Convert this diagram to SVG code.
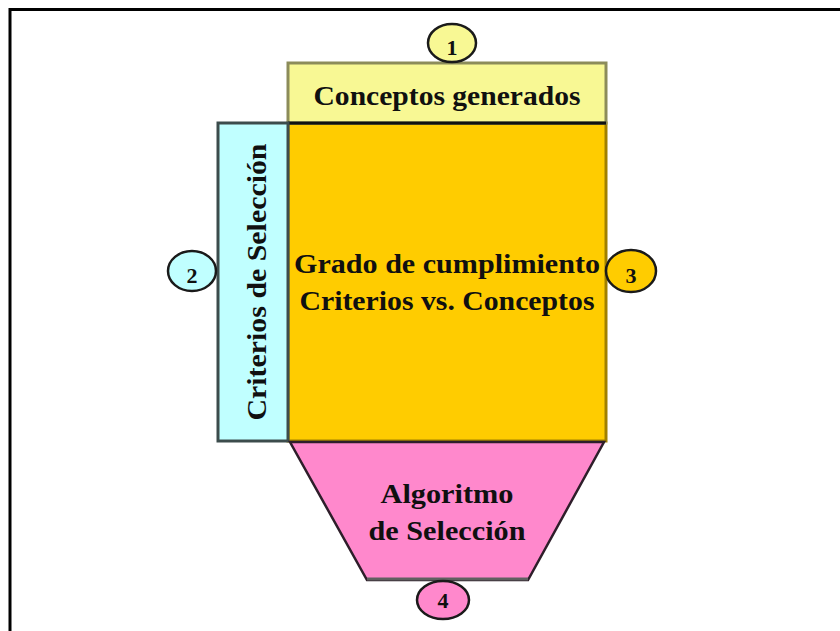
<svg xmlns="http://www.w3.org/2000/svg" width="840" height="631" viewBox="0 0 840 631">
<style>
  .t { font-family: "Liberation Serif", "Times New Roman", serif; font-weight: bold; fill: #101010; text-anchor: middle; }
  .big { font-size: 27px; }
  .num { font-size: 22px; }
  .badge { stroke: #1a1a1a; stroke-width: 2.5; }
</style>
<rect x="0" y="0" width="840" height="631" fill="#ffffff"/>
<rect x="10" y="9.5" width="850" height="640" fill="none" stroke="#000" stroke-width="3"/>
<g id="orange">
  <rect x="288" y="123" width="318" height="318" fill="#FFCC00" stroke="#A08000" stroke-width="3"/>
  <line x1="288" y1="123" x2="606" y2="123" stroke="#111" stroke-width="3"/>
  <text class="t big" x="447" y="273" textLength="306" lengthAdjust="spacingAndGlyphs">Grado de cumplimiento</text>
  <text class="t big" x="447" y="310" textLength="295" lengthAdjust="spacingAndGlyphs">Criterios vs. Conceptos</text>
</g>
<g id="yellow">
  <rect x="288" y="63" width="318" height="60" fill="#F8F894" stroke="#8C8C5A" stroke-width="3"/>
  <line x1="288" y1="123" x2="606" y2="123" stroke="#111" stroke-width="3"/>
  <text class="t big" x="447" y="105" textLength="267" lengthAdjust="spacingAndGlyphs">Conceptos generados</text>
</g>
<g id="cyan">
  <rect x="218" y="123" width="70" height="318" fill="#C0FFFF" stroke="#3C4C4C" stroke-width="3"/>
  <text class="t big" transform="translate(266,282) rotate(-90)" x="0" y="0" textLength="277" lengthAdjust="spacingAndGlyphs">Criterios de Selección</text>
</g>
<g id="pink">
  <polygon points="290,442 604,442 528,580 367,580" fill="#FF88CC" stroke="#2E1E2A" stroke-width="2.5"/>
  <line x1="367" y1="579" x2="528" y2="579" stroke="#606060" stroke-width="3"/>
  <text class="t big" x="447" y="503" textLength="133" lengthAdjust="spacingAndGlyphs">Algoritmo</text>
  <text class="t big" x="447" y="540" textLength="157" lengthAdjust="spacingAndGlyphs">de Selección</text>
</g>
<g id="badge1">
  <ellipse class="badge" cx="452" cy="43" rx="24" ry="19" fill="#F8F894"/>
  <text class="t num" x="452" y="55">1</text>
</g>
<g id="badge2">
  <ellipse class="badge" cx="192" cy="271" rx="24" ry="20" fill="#C0FFFF"/>
  <text class="t num" x="192" y="283">2</text>
</g>
<g id="badge3">
  <ellipse class="badge" cx="631" cy="271" rx="25" ry="21" fill="#FFCC00"/>
  <text class="t num" x="631" y="283">3</text>
</g>
<g id="badge4">
  <ellipse class="badge" cx="443" cy="600" rx="26" ry="19" fill="#FF88CC"/>
  <text class="t num" x="443" y="608">4</text>
</g>
<g id="connectors"></g>
</svg>
